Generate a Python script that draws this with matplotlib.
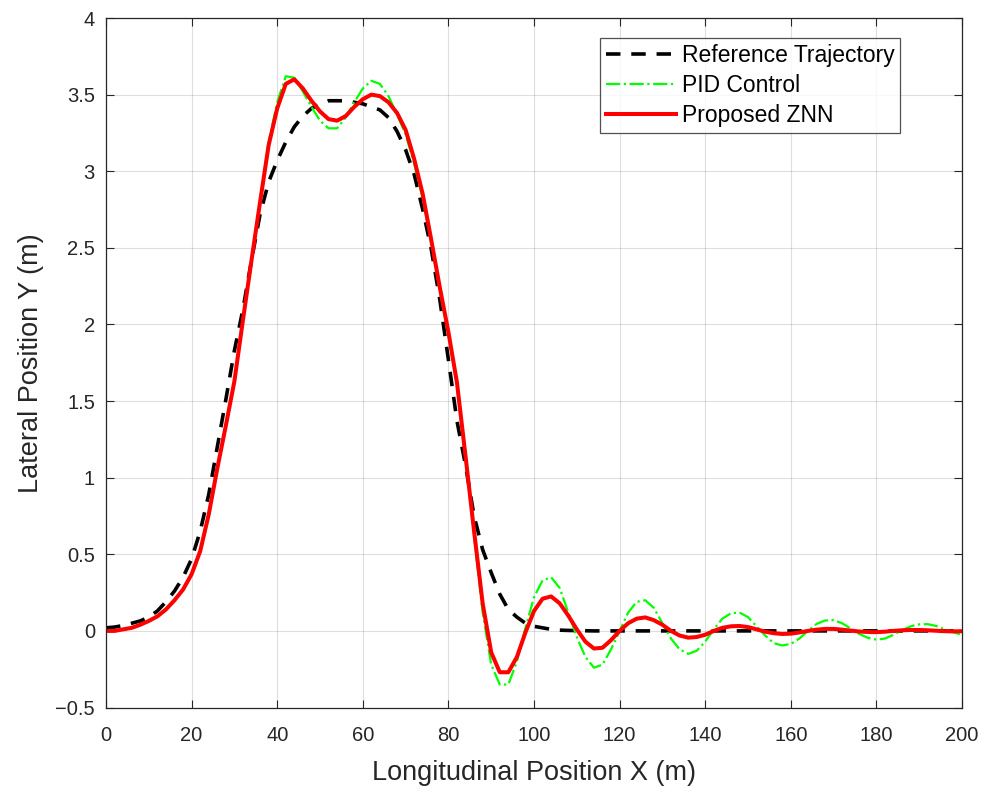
import numpy as np
import matplotlib
matplotlib.use("Agg")
from matplotlib import pyplot as plt

# posiciones longitudinales (m), cada 2 m
x_pos = list(range(0, 202, 2))

# trayectoria de referencia
y_ref = [0.020, 0.025, 0.035, 0.050, 0.065, 0.090, 0.130, 0.190, 0.260, 0.350,
         0.470, 0.650, 0.890, 1.200, 1.510, 1.830, 2.100, 2.420, 2.720, 2.930,
         3.070, 3.190, 3.290, 3.360, 3.410, 3.440, 3.460, 3.460, 3.460, 3.450,
         3.440, 3.420, 3.400, 3.350, 3.260, 3.140, 2.980, 2.750, 2.490, 2.160,
         1.770, 1.370, 1.080, 0.750, 0.530, 0.380, 0.240, 0.140, 0.090, 0.050,
         0.030, 0.020, 0.010, 0.005, 0.003, 0.002, 0.001, 0.000, 0.000, 0.000,
         0.000, 0.000, 0.000, 0.000, 0.000, 0.000, 0.000, 0.000, 0.000, 0.000,
         0.000, 0.000, 0.000, 0.000, 0.000, 0.000, 0.000, 0.000, 0.000, 0.000,
         0.000, 0.000, 0.000, 0.000, 0.000, 0.000, 0.000, 0.000, 0.000, 0.000,
         0.000, 0.000, 0.000, 0.000, 0.000, 0.000, 0.000, 0.000, 0.000, 0.000,
         0.000]

# control PID
y_pid = [0.000, 0.000, 0.010, 0.020, 0.040, 0.065, 0.095, 0.140, 0.200, 0.270,
         0.370, 0.520, 0.760, 1.060, 1.340, 1.630, 2.030, 2.420, 2.810, 3.190,
         3.450, 3.620, 3.610, 3.520, 3.420, 3.330, 3.280, 3.280, 3.350, 3.450,
         3.540, 3.590, 3.570, 3.490, 3.370, 3.240, 3.050, 2.820, 2.530, 2.220,
         1.930, 1.600, 1.120, 0.620, 0.120, -0.220, -0.350, -0.350, -0.200, 0.020,
         0.220, 0.330, 0.350, 0.280, 0.120, -0.040, -0.170, -0.240, -0.220, -0.120,
         0.000, 0.120, 0.190, 0.200, 0.150, 0.050, -0.050, -0.120, -0.150, -0.130,
         -0.070, 0.010, 0.080, 0.115, 0.120, 0.090, 0.030, -0.030, -0.080, -0.095,
         -0.085, -0.050, 0.000, 0.045, 0.068, 0.070, 0.050, 0.015, -0.020, -0.045,
         -0.057, -0.050, -0.025, 0.005, 0.030, 0.043, 0.044, 0.032, 0.010, -0.010,
         -0.025]

# ZNN propuesta
y_znn = [0.000, 0.000, 0.010, 0.020, 0.040, 0.065, 0.095, 0.140, 0.200, 0.270,
         0.370, 0.520, 0.760, 1.060, 1.340, 1.630, 2.030, 2.420, 2.800, 3.170,
         3.410, 3.570, 3.600, 3.540, 3.460, 3.390, 3.340, 3.330, 3.360, 3.420,
         3.470, 3.500, 3.490, 3.450, 3.380, 3.270, 3.080, 2.850, 2.550, 2.240,
         1.950, 1.620, 1.140, 0.650, 0.180, -0.140, -0.270, -0.270, -0.170, -0.010,
         0.130, 0.210, 0.225, 0.180, 0.100, 0.010, -0.070, -0.115, -0.110, -0.060,
         0.000, 0.050, 0.080, 0.088, 0.070, 0.040, 0.000, -0.030, -0.044, -0.040,
         -0.025, 0.000, 0.020, 0.030, 0.032, 0.025, 0.010, -0.005, -0.015, -0.020,
         -0.018, -0.010, 0.000, 0.008, 0.013, 0.013, 0.008, 0.002, -0.004, -0.007,
         -0.008, -0.005, 0.000, 0.004, 0.006, 0.006, 0.004, 0.001, -0.002, -0.003,
         -0.002]

x_ticks = list(range(0, 201, 20))
y_ticks = [-0.5, 0, 0.5, 1, 1.5, 2, 2.5, 3, 3.5, 4]
y_tick_labels = ['\u22120.5', '0', '0.5', '1', '1.5', '2', '2.5', '3', '3.5', '4']

plt.rcParams['font.family'] = ['Liberation Sans', 'DejaVu Sans']
gris = '#262626'

fig = plt.figure(figsize=(9.88, 7.93), dpi=100)
ax = fig.add_axes([0.1073, 0.1078, 0.8664, 0.8695])

ax.plot(x_pos, y_ref, color='k', linestyle=(0, (4, 3)), linewidth=2.6, label='Reference Trajectory')
ax.plot(x_pos, y_pid, color=(0, 1, 0), linestyle='-.', linewidth=1.6, label='PID Control')
ax.plot(x_pos, y_znn, color=(1, 0, 0), linestyle='-', linewidth=2.9, label='Proposed ZNN')

ax.set_xlim(0, 200)
ax.set_ylim(-0.5, 4)
ax.set_xticks(x_ticks)
ax.set_yticks(y_ticks)
ax.set_yticklabels(y_tick_labels)
ax.grid(True, color=gris, alpha=0.15, linewidth=0.8)
ax.tick_params(direction='in', top=True, right=True, length=6, width=0.8,
               labelsize=14.5, colors=gris, labelcolor=gris)
ax.tick_params(axis='x', pad=13)
ax.tick_params(axis='y', pad=8)
for s in ax.spines.values():
    s.set_color(gris)
    s.set_linewidth(0.9)

ax.set_xlabel('Longitudinal Position X (m)', fontsize=19.5, color=gris, labelpad=11)
ax.set_ylabel('Lateral Position Y (m)', fontsize=19.5, color=gris, labelpad=8)

leg = ax.legend(loc='upper right', bbox_to_anchor=(0.9276, 0.971), fontsize=16.5,
                frameon=True, fancybox=False, handlelength=3.05, handletextpad=0.26,
                labelspacing=0.32, borderpad=0.25, borderaxespad=0)
leg.get_frame().set_edgecolor(gris)
leg.get_frame().set_linewidth(0.9)

fig.savefig('out.png', dpi=100)
